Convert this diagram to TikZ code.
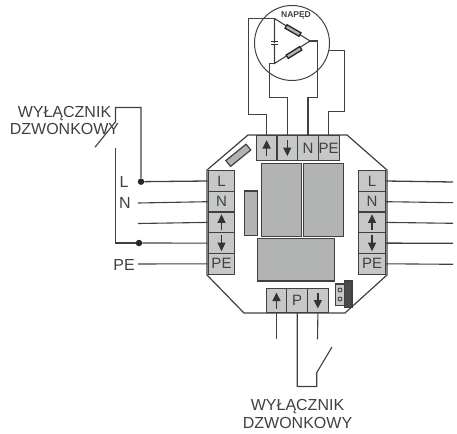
\documentclass[tikz,border=0pt]{standalone}
\usepackage{fontspec}
\setmainfont{Liberation Sans}
\usepackage{tikz}
\usetikzlibrary{arrows.meta}
\usetikzlibrary{calc}
\definecolor{wirecol}{HTML}{404040}
\definecolor{cellcol}{HTML}{C6C8C8}
\definecolor{blockcol}{HTML}{B2B4B4}
\tikzset{
	wire/.style={wirecol,line width=1.1pt,line join=miter},
	cell/.style={draw=wirecol,line width=1.2pt,fill=cellcol,text=wirecol,inner sep=0pt,font=\fontsize{15}{15}\selectfont},
	hcell/.style={cell,minimum width=20.8pt,minimum height=24.5pt},
	vcell/.style={cell,minimum width=26.5pt,minimum height=20.7pt},
	block/.style={draw=wirecol,line width=1.2pt,fill=blockcol,inner sep=0pt},
	lbl/.style={text=wirecol,inner sep=0pt,font=\fontsize{16}{17.7}\selectfont,align=center},
	cellarrow/.style={black!80,line width=1.3pt,-{Triangle[length=8.5pt,width=8pt]}},
	dot/.style={circle,fill=black!85,inner sep=0pt,minimum size=6.5pt},
	res/.style={draw=black!85,line width=1.3pt,fill=gray!60,inner sep=0pt,minimum width=16pt,minimum height=4pt}
}
\begin{document}
\begin{tikzpicture}[x=1pt,y=-1pt]
	\useasboundingbox (0,0) rectangle (457,433);

	% housing
	\draw[wire,line width=1.2pt] (248,135) -- (347,135) -- (387,170) -- (387,275) -- (345,313) -- (244,313) -- (207,275) -- (207,170) -- cycle;

	% blocks
	\node[block,minimum width=40pt,minimum height=73.5pt] (relayA) at (281.7,200) {};
	\node[block,minimum width=40pt,minimum height=73.5pt] (relayB) at (323.3,200) {};
	\node[block,minimum width=77pt,minimum height=42.5pt] (trafo) at (295.8,259.7) {};
	\node[block,minimum width=13pt,minimum height=44.7pt] (side) at (251.2,213.3) {};
	\node[block,minimum width=26pt,minimum height=7.5pt,rotate=39] (fuse) at (238.3,155.3) {};
	\node[block,fill=cellcol,minimum width=8.6pt,minimum height=21.7pt] (jumper) at (340,294.8) {};
	\node[circle,draw=wirecol,line width=0.9pt,inner sep=0pt,minimum size=4pt] (pinA) at (340,290) {};
	\node[circle,draw=wirecol,line width=0.9pt,inner sep=0pt,minimum size=4pt] (pinB) at (340,299) {};
	\node[block,fill=wirecol!95,minimum width=7.7pt,minimum height=26.7pt] (bar) at (348.2,294.3) {};

	% top terminal
	\node[hcell] (tUp) at (266.6,148) {};
	\node[hcell] (tDn) at (287.3,148) {};
	\node[hcell] (tN) at (308,148) {N};
	\node[hcell] (tPE) at (328.7,148) {PE};

	% left terminal
	\node[vcell] (lL) at (221.5,181) {L};
	\node[vcell] (lN) at (221.5,201.7) {N};
	\node[vcell] (lUp) at (221.5,222.4) {};
	\node[vcell] (lDn) at (221.5,243.1) {};
	\node[vcell] (lPE) at (221.5,263.8) {PE};

	% right terminal
	\node[vcell] (rL) at (372,181) {L};
	\node[vcell] (rN) at (372,201.7) {N};
	\node[vcell] (rUp) at (372,222.4) {};
	\node[vcell] (rDn) at (372,243.1) {};
	\node[vcell] (rPE) at (372,263.8) {PE};

	% bottom terminal
	\node[hcell] (bUp) at (276.5,300.5) {};
	\node[hcell] (bP) at (297.2,300.5) {P};
	\node[hcell] (bDn) at (317.9,300.5) {};

	% arrows in the cells
	\draw[cellarrow] ([yshift=-8pt]tUp.center) -- ([yshift=8pt]tUp.center);
	\draw[cellarrow] ([yshift=8pt]tDn.center) -- ([yshift=-8pt]tDn.center);
	\draw[cellarrow] ([yshift=-8pt]lUp.center) -- ([yshift=8pt]lUp.center);
	\draw[cellarrow] ([yshift=8pt]lDn.center) -- ([yshift=-8pt]lDn.center);
	\draw[cellarrow] ([yshift=-8pt]rUp.center) -- ([yshift=8pt]rUp.center);
	\draw[cellarrow] ([yshift=8pt]rDn.center) -- ([yshift=-8pt]rDn.center);
	\draw[cellarrow] ([yshift=-8pt]bUp.center) -- ([yshift=8pt]bUp.center);
	\draw[cellarrow] ([yshift=8pt]bDn.center) -- ([yshift=-8pt]bDn.center);

	% drive
	\node[circle,draw=wirecol,line width=1pt,inner sep=0pt,minimum size=75pt] (drive) at (292,43) {};
	\node[inner sep=0pt,text=wirecol,font=\fontsize{8.5}{8.5}\selectfont\bfseries] (driveName) at (296,15.5) {NAPĘD};
	\coordinate (triA) at (274.5,18.5);
	\coordinate (triB) at (310,41);
	\coordinate (triC) at (274.5,63.5);
	\draw[wire] (triA) -- (triB) -- (triC) -- (triA);
	\node[res,rotate=-30] (resA) at (293,30.5) {};
	\node[res,rotate=32] (resB) at (294,52.5) {};
	\fill[white] (271,42.6) rectangle (278,43.9);
	\draw[black!80,line width=1pt] (271,42) -- (278,42) (271,44.5) -- (278,44.5);

	% drive wires
	\draw[wire] (triA) -| (248.5,114.5) -| (tUp.north);
	\draw[wire] (triC) -- (269.5,63.5) |- (287.3,97.5) -- (tDn.north);
	\draw[wire] (triB) -| (317.5,97.5) -| (tN.north);
	\draw[wire] (drive.-12) -| (344.5,111.5) -| (tPE.north);

	% left side
	\coordinate (nEnd) at (138,203);
	\coordinate (upEnd) at (138,223.5);
	\coordinate (peEnd) at (138,264);
	\coordinate (swTop) at (115.5,121.7);
	\coordinate (swTip) at (95,147.3);
	\coordinate (swLow) at (115.5,148);
	\node[dot] (dotL) at (141,181.7) {};
	\node[dot] (dotDn) at (139,243) {};
	\draw[wire,line width=1.3pt] (dotL) -- (lL.west);
	\draw[wire] (nEnd) -- (lN.west);
	\draw[wire] (upEnd) -- (lUp.west);
	\draw[wire] (dotDn) -- (lDn.west);
	\draw[wire] (peEnd) -- (lPE.west);
	\draw[wire] (swLow) |- (dotDn);
	\draw[wire] (dotL) |- (115.5,107.5) -- (swTop) -- (swTip);
	\node[lbl] (labL) at (124,182) {L};
	\node[lbl] (labN) at (125,202.7) {N};
	\node[lbl] (labPE) at (124,265) {PE};
	\node[lbl] (switchLeft) at (64.5,120.5) {WYŁĄCZNIK\\DZWONKOWY};

	% right side
	\coordinate (rLEnd) at (453,182);
	\coordinate (rNEnd) at (453,202.7);
	\coordinate (rUpEnd) at (453,223.3);
	\coordinate (rDnEnd) at (453,243.3);
	\coordinate (rPEEnd) at (453,264.3);
	\draw[wire,line width=1.3pt] (rL.east) -- (rLEnd);
	\draw[wire] (rN.east) -- (rNEnd);
	\draw[wire] (rUp.east) -- (rUpEnd);
	\draw[wire,line width=1.3pt] (rDn.east) -- (rDnEnd);
	\draw[wire] (rPE.east) -- (rPEEnd);

	% bottom side
	\coordinate (bUpEnd) at (276.5,339.3);
	\coordinate (bDnEnd) at (317.5,339.3);
	\coordinate (swBase) at (316.7,372.7);
	\coordinate (swEnd) at (332,347);
	\draw[wire] (bUp.south) -- (bUpEnd);
	\draw[wire] (bDn.south) -- (bDnEnd);
	\draw[wire] (bP.south) |- (316.7,386.5) -- (swBase) -- (swEnd);
	\node[lbl] (switchBottom) at (297.5,414) {WYŁĄCZNIK\\DZWONKOWY};
\end{tikzpicture}
\end{document}
